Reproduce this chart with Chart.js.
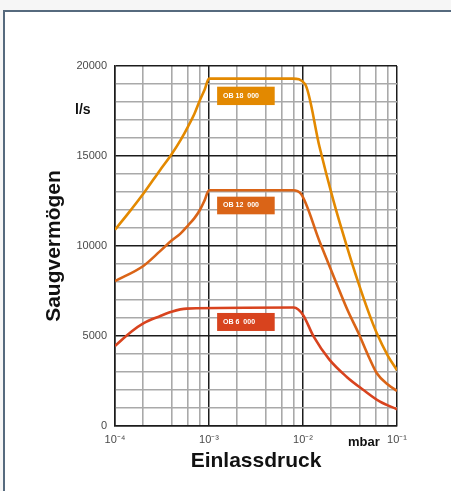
<!DOCTYPE html>
<html><head><meta charset="utf-8">
<script src="https://cdn.jsdelivr.net/npm/chart.js@4/dist/chart.umd.min.js"></script>
<style>
html,body{margin:0;padding:0;background:#f6f6f6;width:451px;height:491px;overflow:hidden;}
#frame{position:absolute;left:3px;top:10px;width:470px;height:500px;background:#fff;border-left:2px solid #566a7e;border-top:2px solid #566a7e;}
#c{position:absolute;left:0;top:0;}
</style></head><body>
<div id="frame"></div>
<canvas id="c" width="451" height="491"></canvas>
<script>
// ---- data ----
const pressure18 = [1e-4, 1.5e-4, 2e-4, 3e-4, 4e-4, 5e-4, 6e-4, 7e-4, 8e-4, 9e-4, 1e-3, 7.8e-3, 1.05e-2, 1.5e-2, 2.1e-2, 3e-2, 3.8e-2, 5e-2, 6.1e-2, 8e-2, 1e-1];
const speed18    = [10900, 12050, 12900, 14200, 15100, 15900, 16650, 17350, 18100, 18700, 19300, 19300, 19000, 15500, 12550, 9800, 8100, 6300, 5150, 3900, 3100];

const pressure12 = [1e-4, 2e-4, 3e-4, 4e-4, 5e-4, 6e-4, 7e-4, 8e-4, 9e-4, 1e-3, 7.8e-3, 9.5e-3, 1.5e-2, 2.2e-2, 3e-2, 3.9e-2, 5e-2, 6.1e-2, 8e-2, 1e-1];
const speed12    = [8050, 8890, 9700, 10300, 10700, 11150, 11550, 12000, 12550, 13100, 13100, 12900, 10250, 8100, 6400, 5150, 3850, 2930, 2300, 1950];

const pressure6  = [1e-4, 1.5e-4, 2e-4, 3e-4, 4e-4, 5.8e-4, 8e-3, 1e-2, 1.3e-2, 1.9e-2, 2.9e-2, 4.4e-2, 6.6e-2, 1e-1];
const speed6     = [4450, 5250, 5700, 6100, 6350, 6520, 6580, 6170, 4960, 3700, 2740, 2000, 1350, 930];

const seriesNames  = ['OB 18  000', 'OB 12  000', 'OB 6  000'];
const seriesColors = ['#e38900', '#da6417', '#d8431e'];

const xTickDecades = [1e-4, 1e-3, 1e-2, 1e-1];
const xMinorMultipliers = [2, 4, 6, 8];
const xTickLabels  = ['10\u207B\u2074', '10\u207B\u00B3', '10\u207B\u00B2', '10\u207B\u00B9'];
const yTickLabels  = ['0', '5000', '10000', '15000', '20000'];
const yLabelValues = [0, 5000, 10000, 15000, 20000];

// label boxes (data coordinates)
const labelBoxX      = [1.22e-3, 5.0e-3];
const labelBoxTop    = [18850, 12740, 6280];
const labelBoxBottom = [17830, 11760, 5280];

// ---- helpers ----
const near = (a, b) => Math.abs(a - b) <= Math.abs(b) * 1e-6;
const decadeIndex = v => xTickDecades.findIndex(d => near(v, d));
const xGridValues = [];
for (let i = 0; i < xTickDecades.length - 1; i++) {
  xGridValues.push(xTickDecades[i]);
  xMinorMultipliers.forEach(m => xGridValues.push(Number((m * xTickDecades[i]).toPrecision(3))));
}
xGridValues.push(xTickDecades[xTickDecades.length - 1]);

const FONT = "'Liberation Sans', Arial, sans-serif";
const MAJOR = '#1c1c1c', MINOR = '#a9a9a9';

const pairs = (xs, ys) => xs.map((x, i) => ({x: x, y: ys[i]}));
const seriesData = [pairs(pressure18, speed18), pairs(pressure12, speed12), pairs(pressure6, speed6)];

const extras = {
  id: 'extras',
  afterDraw(chart) {
    const c = chart.ctx, xs = chart.scales.x, ys = chart.scales.y, a = chart.chartArea;
    c.save();
    for (let i = 0; i < seriesNames.length; i++) {
      const x0 = xs.getPixelForValue(labelBoxX[0]), x1 = xs.getPixelForValue(labelBoxX[1]);
      const y0 = ys.getPixelForValue(labelBoxTop[i]), y1 = ys.getPixelForValue(labelBoxBottom[i]);
      c.fillStyle = seriesColors[i];
      c.fillRect(x0, y0, x1 - x0, y1 - y0);
      c.fillStyle = '#fff';
      c.font = 'bold 7px ' + FONT;
      c.textBaseline = 'middle';
      c.textAlign = 'left';
      c.fillText(seriesNames[i], x0 + 6, (y0 + y1) / 2);
    }
    c.fillStyle = '#111';
    c.font = 'bold 14px ' + FONT;
    c.textBaseline = 'alphabetic';
    c.textAlign = 'left';
    c.fillText('l/s', a.left - 40, 114);
    c.font = 'bold 13px ' + FONT;
    c.fillText('mbar', a.right - 49, 446);
    c.restore();
  }
};

new Chart(document.getElementById('c'), {
  type: 'line',
  data: {
    datasets: seriesData.map((d, i) => ({
      label: seriesNames[i],
      data: d,
      borderColor: seriesColors[i],
      borderWidth: 2.6,
      pointRadius: 0,
      cubicInterpolationMode: 'monotone',
      fill: false
    }))
  },
  options: {
    responsive: false,
    animation: false,
    layout: {padding: {left: 0, top: 66, right: 54, bottom: 0}},
    plugins: {legend: {display: false}, tooltip: {enabled: false}},
    scales: {
      x: {
        type: 'logarithmic',
        min: xTickDecades[0],
        max: xTickDecades[xTickDecades.length - 1],
        afterBuildTicks: s => { s.ticks = xGridValues.map(v => ({value: v})); },
        afterFit: s => { s.height = 65; },
        ticks: {
          autoSkip: false, maxRotation: 0, padding: 7, color: '#4a4a4a',
          font: {family: FONT, size: 11},
          callback: v => { const k = decadeIndex(v); return k >= 0 ? xTickLabels[k] : ''; }
        },
        grid: {
          drawTicks: false,
          color: ctx => (ctx.tick && decadeIndex(ctx.tick.value) >= 0) ? MAJOR : MINOR,
          lineWidth: ctx => (ctx.tick && decadeIndex(ctx.tick.value) >= 0) ? 1.5 : 1.6
        },
        border: {color: MAJOR, width: 1.5},
        title: {display: true, text: 'Einlassdruck', color: '#111',
                font: {family: FONT, size: 21, weight: 'bold'}, padding: {top: 0, bottom: 17}}
      },
      y: {
        type: 'linear',
        min: 0, max: 20000,
        afterFit: s => { s.width = 115; },
        ticks: {
          stepSize: 1000, padding: 8, color: '#4a4a4a',
          font: {family: FONT, size: 11},
          callback: v => { const k = yLabelValues.indexOf(v); return k >= 0 ? yTickLabels[k] : ''; }
        },
        grid: {
          drawTicks: false,
          color: ctx => (ctx.tick && ctx.tick.value % 5000 === 0) ? MAJOR : MINOR,
          lineWidth: ctx => (ctx.tick && ctx.tick.value % 5000 === 0) ? 1.5 : 1.4
        },
        border: {color: MAJOR, width: 1.5},
        title: {display: true, text: 'Saugvermögen', color: '#111',
                font: {family: FONT, size: 21, weight: 'bold'}, padding: {top: 42, bottom: 0}}
      }
    }
  },
  plugins: [extras]
});
</script>
</body></html>
